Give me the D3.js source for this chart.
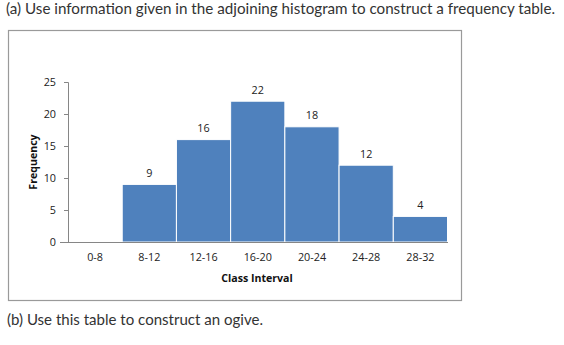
<!DOCTYPE html>
<html><head><meta charset="utf-8">
<script src="https://cdn.jsdelivr.net/npm/d3@7"></script>
<style>body{margin:0;background:#fff}svg{display:block}</style>
</head><body>
<script>
const categories = ["0-8","8-12","12-16","16-20","20-24","24-28","28-32"];
const frequencies = [0,9,16,22,18,12,4];
const yTicks = [0,5,10,15,20,25];
const titleA = "(a) Use information given in the adjoining histogram to construct a frequency table.";
const titleB = "(b) Use this table to construct an ogive.";
const xTitle = "Class Interval";
const yTitle = "Frequency";

const W=564,H=345;
const svg=d3.select("body").append("svg").attr("width",W).attr("height",H);
const qFont="Lato, 'Open Sans', sans-serif";
const cFont="'Open Sans', 'Liberation Sans', sans-serif";

svg.append("text").attr("x",6).attr("y",14).attr("font-family",qFont).attr("font-size",15)
  .attr("fill","#333").attr("textLength",549).attr("lengthAdjust","spacingAndGlyphs").text(titleA);
svg.append("text").attr("x",7).attr("y",325).attr("font-family",qFont).attr("font-size",15)
  .attr("fill","#333").attr("textLength",256).attr("lengthAdjust","spacingAndGlyphs").text(titleB);

// frame
svg.append("rect").attr("x",8.5).attr("y",30.5).attr("width",453).attr("height",270)
  .attr("fill","#fff").attr("stroke","#9a9a9a").attr("stroke-width",1.2);

const x=d3.scaleBand().domain(categories).range([68,447.5]).padding(0);
const y=d3.scaleLinear().domain([0,25]).range([242,82]);

const g=svg.append("g");
g.selectAll("rect.bar").data(frequencies.map((v,i)=>({c:categories[i],v}))).enter()
  .filter(d=>d.v>0)
  .append("rect").attr("class","bar")
  .attr("x",d=>x(d.c)).attr("width",x.bandwidth())
  .attr("y",d=>y(d.v)).attr("height",d=>y(0)-y(d.v))
  .attr("fill","#4f81bd").attr("stroke","#fff").attr("stroke-width",1);

g.selectAll("text.lab").data(frequencies.map((v,i)=>({c:categories[i],v}))).enter()
  .filter(d=>d.v>0)
  .append("text").attr("class","lab")
  .attr("x",d=>x(d.c)+x.bandwidth()/2).attr("y",d=>y(d.v)-7.5)
  .attr("text-anchor","middle").attr("font-family",cFont).attr("font-size",10.8).attr("fill","#222")
  .text(d=>d.v);

// y axis
const ya=svg.append("g").attr("transform","translate(68,0)")
  .call(d3.axisLeft(y).tickValues(yTicks).tickSize(4).tickPadding(8));
ya.select(".domain").attr("stroke","#868686");
ya.selectAll(".tick line").attr("stroke","#868686");
ya.selectAll("text").attr("font-family",cFont).attr("font-size",10.8).attr("fill","#222");

// x axis
const xa=svg.append("g").attr("transform","translate(0,242)")
  .call(d3.axisBottom(x).tickSize(0).tickPadding(11));
xa.select(".domain").attr("stroke","#868686").attr("d","M60,0.5H448");
xa.selectAll("text").attr("font-family",cFont).attr("font-size",10.8).attr("fill","#222");

svg.append("text").attr("x",257).attr("y",282).attr("text-anchor","middle")
  .attr("font-family",cFont).attr("font-size",10.6).attr("font-weight","bold").attr("fill","#111").text(xTitle);
svg.append("text").attr("transform","translate(37,162) rotate(-90)").attr("text-anchor","middle")
  .attr("font-family",cFont).attr("font-size",10.6).attr("font-weight","bold").attr("fill","#111").text(yTitle);
</script>
</body></html>
